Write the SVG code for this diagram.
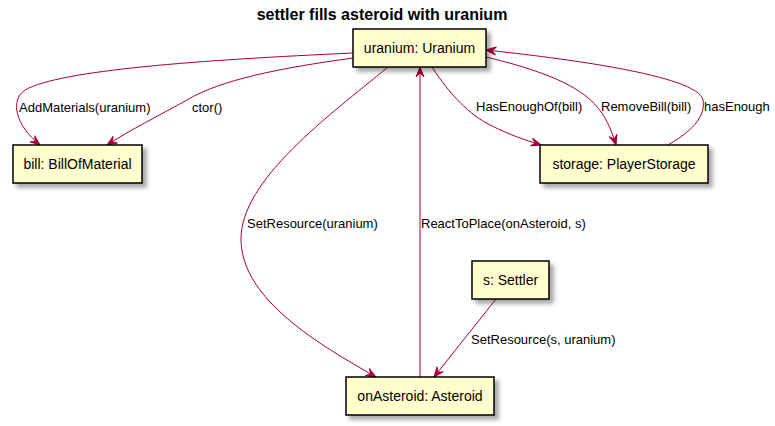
<svg xmlns="http://www.w3.org/2000/svg" width="775" height="426" viewBox="0 0 775 426">
<style>
.node rect{fill:#FEFECE;stroke:#000000;stroke-width:1.5;filter:url(#sh)}
.node text{font-family:"Liberation Sans",Arial,sans-serif;font-size:14px;fill:#000000;text-anchor:middle}
.edge{fill:none;stroke:#A80036;stroke-width:1;marker-end:url(#arr)}
.lbl{font-family:"Liberation Sans",Arial,sans-serif;font-size:13px;fill:#000000}
.title{font-family:"Liberation Sans",Arial,sans-serif;font-size:16px;font-weight:bold;fill:#000000;text-anchor:middle}
</style>
<defs>
<filter id="sh" x="-10%" y="-20%" width="130%" height="160%">
<feGaussianBlur in="SourceAlpha" stdDeviation="2"/>
<feOffset dx="4" dy="4" result="b"/>
<feFlood flood-color="#000000" flood-opacity="0.35"/>
<feComposite in2="b" operator="in" result="s"/>
<feMerge><feMergeNode in="s"/><feMergeNode in="SourceGraphic"/></feMerge>
</filter>
<marker id="arr" viewBox="-11 -5 12 10" refX="0" refY="0" markerWidth="12" markerHeight="10" markerUnits="userSpaceOnUse" orient="auto">
<path d="M0,0 L-10,-4 L-6,0 L-10,4 Z" fill="#A80036" stroke="#A80036" stroke-width="1"/>
</marker>
</defs>
<rect width="775" height="426" fill="#FFFFFF"/>
<text class="title" x="382" y="20">settler fills asteroid with uranium</text>
<g id="connectors">
<path class="edge" d="M353,53 C200,60 60,70 25,90 C10,100 15,125 40,145"/>
<text class="lbl" x="19" y="112">AddMaterials(uranium)</text>
<path class="edge" d="M353,58 C280,68 220,80 187,100 C160,115 130,130 107,145"/>
<text class="lbl" x="192" y="112">ctor()</text>
<path class="edge" d="M388,67 C330,115 240,180 241,240 C242,300 320,345 376,377"/>
<text class="lbl" x="247" y="228">SetResource(uranium)</text>
<path class="edge" d="M420,377 L420,67"/>
<text class="lbl" x="421" y="228">ReactToPlace(onAsteroid, s)</text>
<path class="edge" d="M496,299 L434,377"/>
<text class="lbl" x="471" y="344">SetResource(s, uranium)</text>
<path class="edge" d="M432,67 C450,95 470,115 490,125 C510,135 525,140 541,145"/>
<text class="lbl" x="476" y="111">HasEnoughOf(bill)</text>
<path class="edge" d="M486,57 C540,70 580,85 598,108 C608,120 613,135 616,145"/>
<text class="lbl" x="601" y="111">RemoveBill(bill)</text>
<path class="edge" d="M668,145 C690,132 706,118 703,100 C698,75 560,58 486,50"/>
<text class="lbl" x="704" y="111">hasEnough</text>
</g>
<g id="uranium" class="node"><rect x="353" y="29" width="133" height="38"/><text x="419.5" y="53">uranium: Uranium</text></g>
<g id="bill" class="node"><rect x="13" y="145" width="129" height="38"/><text x="77.5" y="169">bill: BillOfMaterial</text></g>
<g id="storage" class="node"><rect x="540" y="145" width="168" height="38"/><text x="624" y="169">storage: PlayerStorage</text></g>
<g id="settler" class="node"><rect x="472" y="261" width="77" height="38"/><text x="510.5" y="285">s: Settler</text></g>
<g id="onAsteroid" class="node"><rect x="346" y="377" width="148" height="38"/><text x="420" y="401">onAsteroid: Asteroid</text></g>
</svg>
